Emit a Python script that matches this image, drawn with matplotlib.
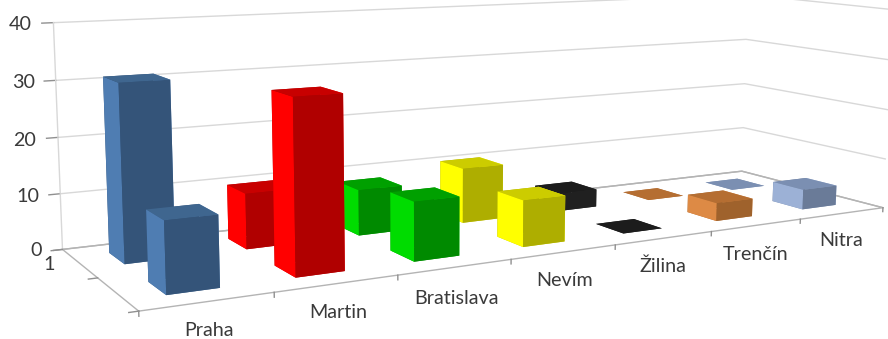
import numpy as np
import matplotlib
matplotlib.use("Agg")
import matplotlib.pyplot as plt

plt.rcParams['font.family'] = ['Lato', 'DejaVu Sans']

# Survey results per city, two series (rear and front rows)
categories = ["Praha", "Martin", "Bratislava", "Nevím", "Žilina", "Trenčín", "Nitra"]
rear_row = [31, 10, 8.5, 10.5, 3.5, 0, 0]
front_row = [12, 30, 10.5, 8.5, 0, 3.5, 4]
value_ticks = [0, 10, 20, 30, 40]

# left side, front face, top of each city's bars
bar_colors = [
    ("#4f7db2", "#345479", "#3f668f"),
    ("#ff0000", "#b00000", "#c80000"),
    ("#00dc00", "#008a00", "#00a000"),
    ("#ffff00", "#aeae00", "#cccc00"),
    ("#262626", "#202020", "#1c1c1c"),
    ("#dd8a45", "#9f622c", "#b56e32"),
    ("#9cb1d6", "#6a7b98", "#7b8fb2"),
]

W, H, S = 888, 339, 1400
fig = plt.figure(figsize=(W / 100, H / 100), dpi=100)
ax = fig.add_axes([-217.6 / W, -502.5 / H, S / W, S / H], projection='3d', computed_zorder=False)
ax.set_xlim(0, 7)
ax.set_ylim(0, 2)
ax.set_zlim(0, 40)
ax.view_init(9.045, -120.4977, -0.3836)
ax.set_proj_type('persp', focal_length=0.19983)
ax.set_box_aspect((1, 0.2902, 0.2617), zoom=0.60909)
ax.set_axis_off()

nx, ny = len(categories), 2
GRID = "#d8d8d8"
EDGE = "#b4b4b4"
line = dict(linewidth=1.0, zorder=1)

# back and right walls
for v in value_ticks:
    ax.plot([0, nx, nx], [ny, ny, 0], [v, v, v], color=GRID if v else EDGE, **line)
    ax.plot([-0.09, 0], [ny, ny], [v, v], color="#909090", **line)
ax.plot([0, 0], [ny, ny], [0, 40], color=GRID, **line)

# floor outline and category / row ticks
ax.plot([0, nx, nx, 0, 0], [0, 0, ny, ny, 0], [0, 0, 0, 0, 0], color=EDGE, **line)
for i in range(nx + 1):
    ax.plot([i, i], [0, 0], [0, -0.8], color="#909090", **line)
for r in range(ny + 1):
    ax.plot([0, -0.07], [r, r], [0, 0], color="#909090", **line)

BAR_X0, BAR_W = 0.295, 0.405
BAR_Y0, BAR_D = 0.30, 0.41

def draw_bar(i, row, value, z):
    side, front, top = bar_colors[i]
    # bar3d face order: bottom, top, front, back, left, right
    faces = [top, top, front, front, side, side]
    ax.bar3d(i + BAR_X0, row + BAR_Y0, 0, BAR_W, BAR_D, value, color=faces,
             shade=False, linewidth=0, zorder=z)

# painter's order: rear row first, each row from right to left
z = 2
for row, values in ((1, rear_row), (0, front_row)):
    for i in reversed(range(nx)):
        draw_bar(i, row, values[i], z)
        z += 1

TEXT = "#3a3a3a"
def px_text(x, y, s, ha='center'):
    fig.text(x / W, 1 - y / H, s, ha=ha, va='center', fontsize=14.2, color=TEXT)

value_label_pos = [(42, 250), (39, 196), (36, 140), (35, 82), (32, 24)]
for v, (x, y) in zip(value_ticks, value_label_pos):
    px_text(x, y, str(v), ha='right')
px_text(49, 264, "1")

category_label_pos = [(209, 330), (338, 313), (456, 298), (565, 281), (663, 266), (756, 254), (841, 241)]
for c, (x, y) in zip(categories, category_label_pos):
    px_text(x, y, c)

fig.savefig("out.png", dpi=100)
